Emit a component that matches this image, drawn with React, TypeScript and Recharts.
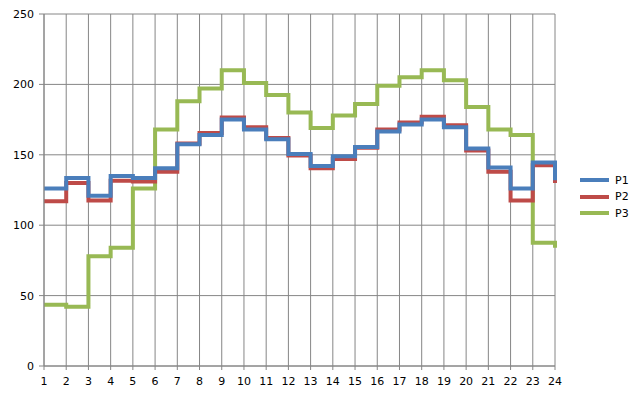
import { LineChart, Line, XAxis, YAxis, CartesianGrid } from 'recharts'

const hours = [1, 2, 3, 4, 5, 6, 7, 8, 9, 10, 11, 12, 13, 14, 15, 16, 17, 18, 19, 20, 21, 22, 23, 24]
const p1 = [126, 133.5, 121, 135, 133.5, 140.5, 157.5, 164, 175, 168, 161, 150.5, 142, 149, 155.5, 166.5, 171.5, 175, 169.5, 154.5, 141, 126, 144.5, 132]
const p2 = [117, 130, 117.5, 131.5, 131, 138, 158, 165.5, 176.5, 169.5, 162, 149.5, 140.5, 147, 155, 168, 173, 177, 171, 153, 138, 117.5, 142.5, 130]
const p3 = [43.5, 42, 78, 84, 126, 168, 188, 197, 210, 201, 192.5, 180, 169, 178, 186, 199, 205, 210, 203, 184, 168, 164, 87.5, 84]
const yTicks = [0, 50, 100, 150, 200, 250]

const series = [
    { key: 'P1', color: '#4A7EBB' },
    { key: 'P2', color: '#BE4B48' },
    { key: 'P3', color: '#98B954' },
]

const data = hours.map((h, i) => ({ h, P1: p1[i], P2: p2[i], P3: p3[i] }))

const font = "'DejaVu Sans', Verdana, sans-serif"

export default function App() {
    return (
        <div style={{ position: 'absolute', left: 0, top: 0, width: 640, height: 396, background: '#fff' }}>
            <LineChart width={640} height={396} data={data} margin={{ top: 14, right: 85, left: 0, bottom: 0 }}>
                <CartesianGrid stroke="#868686" strokeWidth={1} />
                <XAxis
                    dataKey="h"
                    type="number"
                    domain={[1, 24]}
                    ticks={hours}
                    interval={0}
                    height={30}
                    stroke="#868686"
                    tickSize={4}
                    tickMargin={7}
                    tick={{ fill: '#000', fontSize: 11, fontFamily: font }}
                />
                <YAxis
                    domain={[0, 250]}
                    ticks={yTicks}
                    width={44}
                    stroke="#868686"
                    tickSize={5}
                    tickMargin={5}
                    tick={{ fill: '#000', fontSize: 11, fontFamily: font }}
                />
                {/* çizim sırası ters: P1 en üstte */}
                <Line type="stepAfter" dataKey="P3" stroke="#98B954" strokeWidth={4} dot={false} isAnimationActive={false} />
                <Line type="stepAfter" dataKey="P2" stroke="#BE4B48" strokeWidth={4} dot={false} isAnimationActive={false} />
                <Line type="stepAfter" dataKey="P1" stroke="#4A7EBB" strokeWidth={4} dot={false} isAnimationActive={false} />
            </LineChart>
            {/* legenda elle, grafiğin yüksekliğini yemesin */}
            <div style={{ position: 'absolute', left: 580, top: 172, fontFamily: font, fontSize: 11, color: '#000' }}>
                {series.map(s => (
                    <div key={s.key} style={{ display: 'flex', alignItems: 'center', height: 16.5 }}>
                        <div style={{ width: 29, height: 4, background: s.color, marginRight: 6 }} />
                        <span>{s.key}</span>
                    </div>
                ))}
            </div>
        </div>
    )
}
